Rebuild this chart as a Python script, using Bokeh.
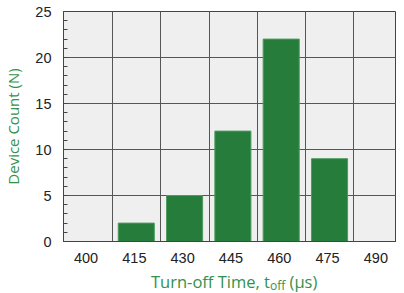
from bokeh.plotting import figure
from bokeh.models import Range1d, FixedTicker, ColumnDataSource, Div
from bokeh.layouts import column
from bokeh.transform import dodge
from bokeh.embed import file_html
from bokeh.resources import INLINE

times = [400, 415, 430, 445, 460, 475, 490]
counts = [0, 2, 5, 12, 22, 9, 0]
y_ticks = [0, 5, 10, 15, 20, 25]
x_title = "Turn-off Time, t"
x_title_sub = "off"
x_title_unit = "(µs)"
y_title = "Device Count (N)"

GREEN = "#267d3b"
LABEL_GREEN = "#34914b"
FONT = "Liberation Sans"
TITLE_FONT = "Open Sans"

p = figure(width=396, height=270, output_backend="svg", toolbar_location=None,
           x_range=Range1d(393.0, 496.4), y_range=Range1d(0, 25),
           min_border_left=56, min_border_right=0, min_border_top=11, min_border_bottom=29)
p.background_fill_color = "#efefef"
p.border_fill_color = "white"
p.outline_line_color = "#444444"

src = ColumnDataSource(dict(x=[t for t, c in zip(times, counts) if c > 0],
                            top=[c for c in counts if c > 0]))
p.vbar(x=dodge("x", 0.6), top="top", bottom=0, width=11.2, source=src,
       fill_color=GREEN, line_color="#4e9a5f", line_width=1)

# grids
p.xgrid.ticker = FixedTicker(ticks=[t + 8.2 for t in times[:-1]])
p.ygrid.ticker = FixedTicker(ticks=y_ticks[1:-1])
for g in (p.xgrid, p.ygrid):
    g.grid_line_color = "#555555"
    g.grid_line_width = 1

# x axis
p.xaxis.ticker = FixedTicker(ticks=times)
p.xaxis.major_tick_in = 0
p.xaxis.major_tick_out = 0
p.xaxis.minor_tick_line_color = None
p.xaxis.axis_line_color = "#444444"
p.xaxis.major_label_standoff = 11
p.xaxis.major_label_text_font = FONT
p.xaxis.major_label_text_font_size = "14.5px"
p.xaxis.major_label_text_color = "#222222"

# y axis
p.yaxis.ticker = FixedTicker(ticks=y_ticks, minor_ticks=list(range(0, 26)))
p.yaxis.major_tick_in = 0
p.yaxis.major_tick_out = 0
p.yaxis.minor_tick_in = 4
p.yaxis.minor_tick_out = 0
p.yaxis.minor_tick_line_color = "#444444"
p.yaxis.axis_line_color = "#444444"
p.yaxis.major_label_standoff = 12
p.yaxis.major_label_text_font = FONT
p.yaxis.major_label_text_font_size = "14.5px"
p.yaxis.major_label_text_color = "#222222"
p.yaxis.axis_label = y_title
p.yaxis.axis_label_text_font = TITLE_FONT
p.yaxis.axis_label_text_font_size = "15px"
p.yaxis.axis_label_text_font_style = "normal"
p.yaxis.axis_label_text_color = LABEL_GREEN
p.yaxis.axis_label_standoff = 9

# x axis title with subscript, as HTML text below the figure
html = (f'<div style="padding-left:151px; white-space:nowrap; line-height:19px;">'
        f'{x_title}<span style="font-size:12px; line-height:12px; position:relative; top:2px;">'
        f'{x_title_sub}</span> {x_title_unit}</div>')
div = Div(text=html, width=396, height=23, margin=0,
          styles={"color": LABEL_GREEN, "font-family": TITLE_FONT, "font-size": "16.5px"})

layout = column(p, div, spacing=0, margin=0)
open("out.html", "w").write(file_html(layout, INLINE))
